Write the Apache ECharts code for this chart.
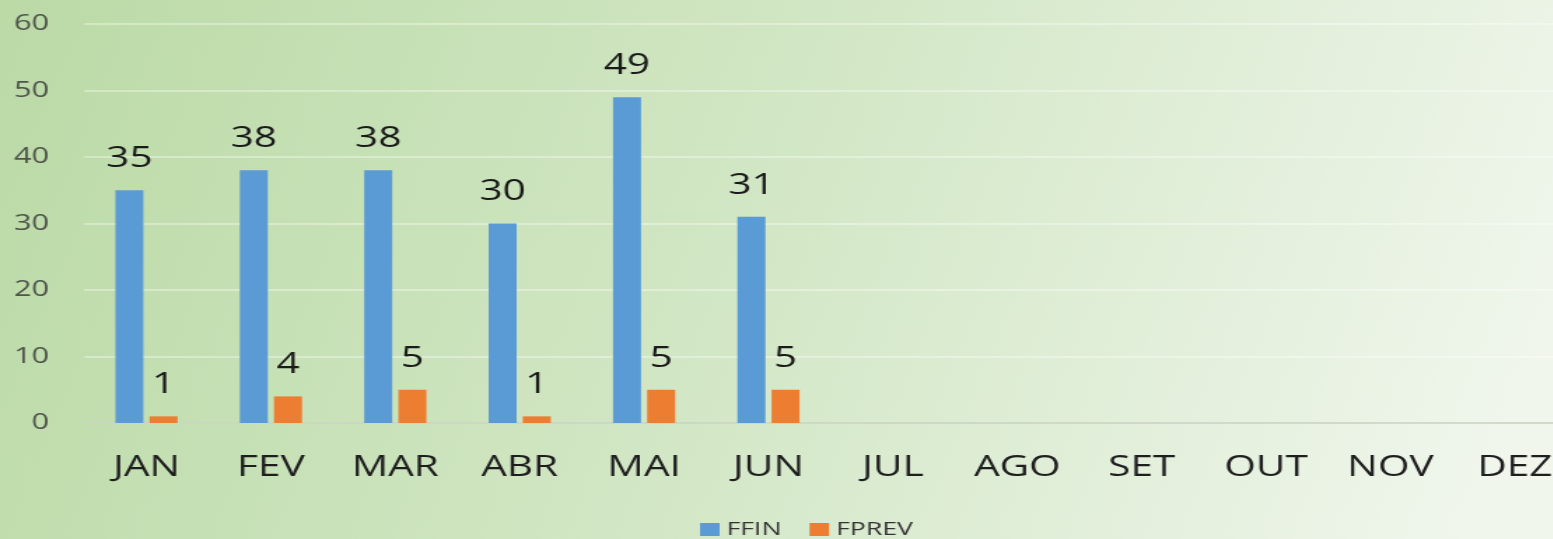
<!DOCTYPE html>
<html>
<head>
<meta charset="utf-8">
<script src="https://cdn.jsdelivr.net/npm/echarts@6/dist/echarts.min.js"></script>
<style>
  html, body { margin: 0; padding: 0; overflow: hidden; background: #f3f7f0; }
  /* the source picture is stretched sideways, so the chart is drawn narrow and scaled */
  #chart { height: 539px; transform-origin: 0 0; }
</style>
</head>
<body>
<div id="chart"></div>
<script>
const months = ['JAN', 'FEV', 'MAR', 'ABR', 'MAI', 'JUN', 'JUL', 'AGO', 'SET', 'OUT', 'NOV', 'DEZ']
const ffin = [35, 38, 38, 30, 49, 31, null, null, null, null, null, null]
const fprev = [1, 4, 5, 1, 5, 5, null, null, null, null, null, null]
const seriesNames = ['FFIN', 'FPREV']

const STRETCH = 1.4
const el = document.getElementById('chart')
el.style.width = Math.ceil(1553 / STRETCH) + 'px'
el.style.transform = 'scaleX(' + STRETCH + ')'

const font = '"Open Sans", "DejaVu Sans", sans-serif'

function barSeries(name, data, color) {
  return {
    name,
    type: 'bar',
    data,
    barWidth: 20,
    barGap: '22%',
    itemStyle: { color },
    label: {
      show: true,
      position: 'top',
      distance: 17,
      color: '#1a1a1a',
      fontSize: 29,
      fontFamily: font,
    },
  }
}

const chart = echarts.init(el, null, { renderer: 'canvas' })
chart.setOption({
  animation: false,
  backgroundColor: {
    type: 'linear',
    x: 0, y: 0, x2: 1, y2: 0.6,
    colorStops: [
      { offset: 0, color: '#bbdaa6' },
      { offset: 0.5, color: '#d2e7c5' },
      { offset: 1, color: '#f0f6ec' },
    ],
  },
  grid: { left: 60.2, right: -16.5, top: 24, bottom: 116, outerBoundsMode: 'none' },
  legend: {
    data: seriesNames,
    left: 495,
    top: 515,
    icon: 'rect',
    itemWidth: 14,
    itemHeight: 13,
    itemGap: 20,
    textStyle: { color: '#333333', fontSize: 19, fontFamily: font },
  },
  xAxis: {
    type: 'category',
    data: months,
    axisTick: { show: false },
    axisLine: { lineStyle: { color: '#c6cfc0', width: 1.5 } },
    axisLabel: { interval: 0, color: '#1e1e1e', fontSize: 29, fontFamily: font, margin: 30 },
  },
  yAxis: {
    type: 'value',
    min: 0,
    max: 60,
    interval: 10,
    axisLine: { show: false },
    axisTick: { show: false },
    axisLabel: { color: '#4f544c', fontSize: 22, fontFamily: font, margin: 25 },
    splitLine: { lineStyle: { color: 'rgba(255,255,255,0.45)', width: 1.5 } },
  },
  series: [
    barSeries(seriesNames[0], ffin, '#5b9bd5'),
    barSeries(seriesNames[1], fprev, '#ed7d31'),
  ],
})
</script>
</body>
</html>
